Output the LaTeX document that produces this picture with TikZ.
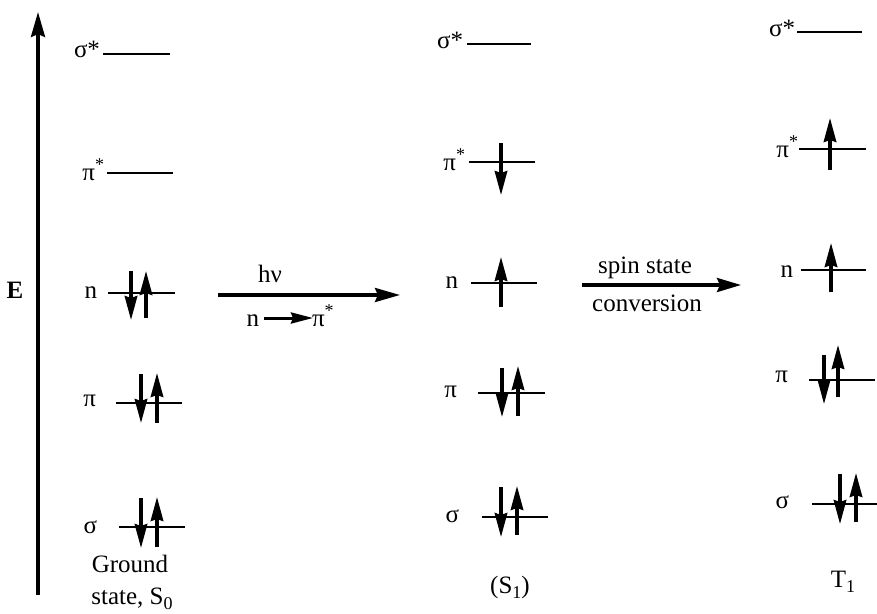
\documentclass[tikz,border=0pt]{standalone}
\usepackage{fontspec}
\setmainfont{Liberation Serif}
\usetikzlibrary{arrows.meta}
\newcommand{\sub}[1]{\raisebox{-0.22em}{\fontsize{18}{18}\selectfont #1}}
\newcommand{\sups}{\raisebox{0.40em}{\fontsize{18}{18}\selectfont *}}
\begin{document}
\begin{tikzpicture}[x=1pt,y=-1pt,
  every node/.style={inner sep=0pt,outer sep=0pt,font=\fontsize{25}{29}\selectfont},
  lvl/.style={line width=2pt},
  lab/.style={anchor=base east},
  el/.style={line width=3.2pt,-{Stealth[length=24pt,width=12.5pt,inset=2pt]}},
  big/.style={line width=3.4pt,-{Stealth[length=25pt,width=14pt,inset=3pt]}}]
\useasboundingbox (0,0) rectangle (877,613);
% energy axis
\coordinate (eb) at (38,595);
\coordinate (et) at (38,12);
\draw[big] (eb) -- (et);
\node[anchor=base] (E) at (15,298) {\textbf{E}};

% ---- left column (S0)
\node[lab] (ls1) at (100,57) {σ*};
\draw[lvl] (103,54) -- (170,54);
\node[lab] (lp1) at (104,180) {π\sups};
\draw[lvl] (107,173) -- (173,173);
\node[lab] (ln) at (97,298) {n};
\draw[lvl] (108,293) -- (175,293);
\draw[el] (131,271) -- (131,320);
\draw[el] (146,318) -- (146,271);
\node[lab] (lp) at (96,406) {π};
\draw[lvl] (116,403) -- (182,403);
\draw[el] (141,374) -- (141,423);
\draw[el] (157,423) -- (157,373);
\node[lab] (ls) at (97,533) {σ};
\draw[lvl] (119,527) -- (185,527);
\draw[el] (141,498) -- (141,548);
\draw[el] (157,547) -- (157,497);
\node[anchor=base] (g1) at (130,572) {Ground};
\node[anchor=base] (g2) at (132,604) {state, S\sub{0}};

% ---- excitation arrow
\coordinate (a1s) at (218,295);
\coordinate (a1e) at (400,295);
\draw[big] (a1s) -- (a1e);
\node[anchor=base] (hv) at (270,282) {hν};
\node[anchor=base east] (nn) at (259,326) {n};
\coordinate (sa) at (264,318);
\coordinate (sb) at (313,318);
\draw[line width=3pt,-{Stealth[length=22pt,width=11pt,inset=2pt]}] (sa) -- (sb);
\node[anchor=base west] (pp) at (312,326) {π\sups};

% ---- middle column (S1)
\node[lab] (ms1) at (463,48) {σ*};
\draw[lvl] (467,44) -- (531,44);
\node[lab] (mp1) at (465,170) {π\sups};
\draw[lvl] (469,162) -- (535,162);
\draw[el] (501,143) -- (501,195);
\node[lab] (mn) at (458,288) {n};
\draw[lvl] (471,283) -- (537,283);
\draw[el] (501,307) -- (501,257);
\node[lab] (mp) at (457,397) {π};
\draw[lvl] (478,393) -- (545,393);
\draw[el] (502,368) -- (502,417);
\draw[el] (518,416) -- (518,366);
\node[lab] (ms) at (459,522) {σ};
\draw[lvl] (482,517) -- (548,517);
\draw[el] (501,487) -- (501,537);
\draw[el] (517,535) -- (517,486);
\node[anchor=base] (s1) at (510,593) {(S\sub{1})};

% ---- spin conversion arrow
\coordinate (a2s) at (582,285);
\coordinate (a2e) at (741,285);
\draw[line width=3.2pt,-{Stealth[length=24pt,width=14pt,inset=3pt]}] (a2s) -- (a2e);
\node[anchor=base] (sp1) at (645,273) {spin state};
\node[anchor=base] (sp2) at (647,311) {conversion};

% ---- right column (T1)
\node[lab] (rs1) at (795,36) {σ*};
\draw[lvl] (797,32) -- (862,32);
\node[lab] (rp1) at (798,157) {π\sups};
\draw[lvl] (799,149) -- (866,149);
\draw[el] (830,170) -- (830,118);
\node[lab] (rn) at (793,277) {n};
\draw[lvl] (801,270) -- (866,270);
\draw[el] (831,292) -- (831,243);
\node[lab] (rp) at (788,382) {π};
\draw[lvl] (809,380) -- (875,380);
\draw[el] (824,355) -- (824,404);
\draw[el] (838,397) -- (838,345);
\node[lab] (rs) at (789,508) {σ};
\draw[lvl] (812,504) -- (877,504);
\draw[el] (840,474) -- (840,524);
\draw[el] (856,522) -- (856,473);
\node[anchor=base] (t1) at (843,587) {T\sub{1}};
\end{tikzpicture}
\end{document}
